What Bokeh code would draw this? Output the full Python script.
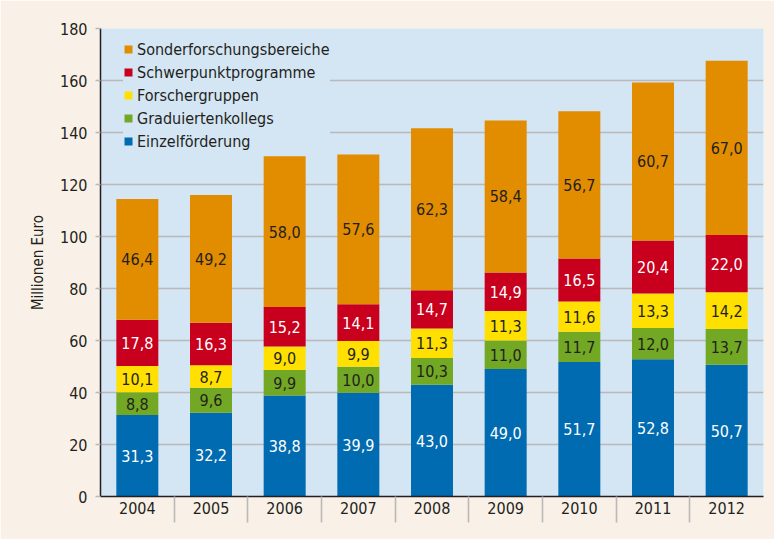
from bokeh.plotting import figure
from bokeh.models import ColumnDataSource, FixedTicker, Legend, LegendItem, LabelSet, Range1d
from bokeh.core.properties import value
from bokeh.embed import file_html
from bokeh.resources import INLINE

years = ["2004", "2005", "2006", "2007", "2008", "2009", "2010", "2011", "2012"]
einzel = [31.3, 32.2, 38.8, 39.9, 43.0, 49.0, 51.7, 52.8, 50.7]
graduierten = [8.8, 9.6, 9.9, 10.0, 10.3, 11.0, 11.7, 12.0, 13.7]
forscher = [10.1, 8.7, 9.0, 9.9, 11.3, 11.3, 11.6, 13.3, 14.2]
schwerpunkt = [17.8, 16.3, 15.2, 14.1, 14.7, 14.9, 16.5, 20.4, 22.0]
sonder = [46.4, 49.2, 58.0, 57.6, 62.3, 58.4, 56.7, 60.7, 67.0]
y_ticks = [0, 20, 40, 60, 80, 100, 120, 140, 160, 180]

series = [
    ("Einzelförderung", einzel, "#006bb0", "white"),
    ("Graduiertenkollegs", graduierten, "#72a824", "#231f20"),
    ("Forschergruppen", forscher, "#ffe000", "#231f20"),
    ("Schwerpunktprogramme", schwerpunkt, "#c8001e", "white"),
    ("Sonderforschungsbereiche", sonder, "#e28c00", "#231f20"),
]

FONT = "DejaVu Sans Condensed"
CREAM = "#f9f1e7"
BLUE_BG = "#d4e5f4"
GRID = "#b9b9b9"
TXT = "#231f20"

xs = list(range(1, len(years) + 1))

p = figure(width=774, height=539, output_backend="svg", toolbar_location=None,
           x_range=Range1d(0.5, len(years) + 0.5), y_range=Range1d(0, 180),
           min_border_left=100, min_border_right=11, min_border_top=28, min_border_bottom=43)
p.background_fill_color = BLUE_BG
p.border_fill_color = CREAM
p.outline_line_color = None

bottoms = [0.0] * len(years)
renderers = {}
for name, vals, color, tcolor in series:
    tops = [b + v for b, v in zip(bottoms, vals)]
    mids = [(b + t) / 2 for b, t in zip(bottoms, tops)]
    src = ColumnDataSource(dict(x=xs, bottom=bottoms, top=tops, mid=mids,
                                label=[f"{v:.1f}".replace(".", ",") for v in vals]))
    r = p.vbar(x="x", bottom="bottom", top="top", width=0.57, source=src,
               fill_color=color, line_color=None)
    renderers[name] = r
    p.add_layout(LabelSet(x="x", y="mid", text="label", source=src,
                          text_align="center", text_baseline="middle",
                          text_color=tcolor, text_font=value(FONT), text_font_size="16px"))
    bottoms = tops

# axes
p.xgrid.grid_line_color = None
p.ygrid.grid_line_color = GRID
p.ygrid.grid_line_width = 1.6
p.ygrid.ticker = FixedTicker(ticks=y_ticks)

p.yaxis.ticker = FixedTicker(ticks=y_ticks)
p.yaxis.axis_line_color = TXT
p.yaxis.axis_line_width = 1.5
p.yaxis.major_tick_line_color = GRID
p.yaxis.major_tick_line_width = 1.6
p.yaxis.major_tick_out = 5
p.yaxis.major_tick_in = 0
p.yaxis.minor_tick_line_color = None
p.yaxis.major_label_standoff = 8
p.yaxis.major_label_text_font = FONT
p.yaxis.major_label_text_font_size = "16px"
p.yaxis.major_label_text_color = TXT
p.yaxis.axis_label = "Millionen Euro"
p.yaxis.axis_label_text_font = FONT
p.yaxis.axis_label_text_font_size = "15px"
p.yaxis.axis_label_text_font_style = "normal"
p.yaxis.axis_label_text_color = TXT
p.yaxis.axis_label_standoff = 10

p.xaxis.ticker = FixedTicker(ticks=xs, minor_ticks=[x + 0.5 for x in xs[:-1]])
p.xaxis.major_label_overrides = {x: y for x, y in zip(xs, years)}
p.xaxis.axis_line_color = TXT
p.xaxis.axis_line_width = 1.5
p.xaxis.major_tick_line_color = None
p.xaxis.major_tick_out = 0
p.xaxis.major_tick_in = 0
p.xaxis.minor_tick_line_color = GRID
p.xaxis.minor_tick_line_width = 1.6
p.xaxis.minor_tick_out = 26
p.xaxis.minor_tick_in = 0
p.xaxis.major_label_standoff = -21
p.xaxis.major_label_text_font = FONT
p.xaxis.major_label_text_font_size = "16px"
p.xaxis.major_label_text_color = TXT

legend_order = ["Sonderforschungsbereiche", "Schwerpunktprogramme", "Forschergruppen",
                "Graduiertenkollegs", "Einzelförderung"]
legend = Legend(items=[LegendItem(label=n, renderers=[renderers[n]]) for n in legend_order],
                location=(23, 345), orientation="vertical",
                glyph_width=10, glyph_height=10, label_height=20, spacing=3,
                padding=8, margin=0, label_standoff=4,
                background_fill_color=BLUE_BG, background_fill_alpha=1.0,
                border_line_color=None,
                label_text_font=FONT, label_text_font_size="16px", label_text_color=TXT)
p.add_layout(legend)

open("out.html", "w").write(file_html(p, INLINE))
